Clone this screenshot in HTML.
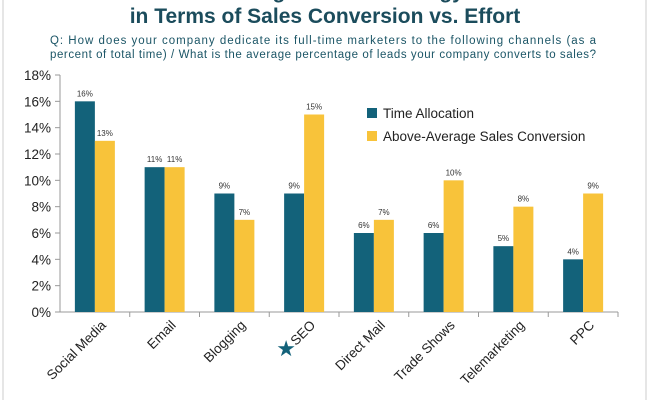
<!DOCTYPE html>
<html><head><meta charset="utf-8"><style>
body{margin:0;background:#fff;width:650px;height:400px;overflow:hidden;font-family:"Liberation Sans",sans-serif}
</style></head><body>
<svg width="650" height="400" xmlns="http://www.w3.org/2000/svg">
<rect x="3" y="-2" width="643" height="410" fill="none" stroke="#ccc"/>
<text x="325" y="-2" text-anchor="middle" font-size="21" font-weight="bold" fill="#1b4c5c">Marketing Channel Strategy</text>
<text x="325" y="23" text-anchor="middle" font-size="21" font-weight="bold" fill="#1b4c5c">in Terms of Sales Conversion vs. Effort</text>
<text x="50" y="44" font-size="11.5" fill="#1b5566" textLength="546">Q: How does your company dedicate its full-time marketers to the following channels (as a</text>
<text x="50" y="58" font-size="11.5" fill="#1b5566" textLength="546">percent of total time) / What is the average percentage of leads your company converts to sales?</text>
<g id="plot"></g>
<g>
<rect x="367" y="108" width="10" height="10" fill="#13627a"/>
<text x="383" y="118" font-size="13.5" fill="#222">Time Allocation</text>
<rect x="367" y="131" width="10" height="10" fill="#f8c33a"/>
<text x="383" y="141" font-size="13.5" fill="#222">Above-Average Sales Conversion</text>
</g>
<text x="555" y="408" font-size="10" fill="#555">Source: HubSpot</text>
</svg>
<script>
const categories=["Social Media","Email","Blogging","SEO","Direct Mail","Trade Shows","Telemarketing","PPC"];
const timeAlloc=[16,11,9,9,6,6,5,4];
const conversion=[13,11,7,15,7,10,8,9];
const yTicks=[0,2,4,6,8,10,12,14,16,18];
const NS="http://www.w3.org/2000/svg";
const g=document.getElementById("plot");
const x0=60,x1=618,yTop=75,yBot=312,yMax=18;
const bw=(x1-x0)/categories.length;
function y(v){return yBot-(v/yMax)*(yBot-yTop);}
function mk(t,a,txt){const e=document.createElementNS(NS,t);for(const k in a)e.setAttribute(k,a[k]);if(txt!==undefined)e.textContent=txt;g.appendChild(e);return e;}
yTicks.forEach(t=>{
 const l=mk("line",{x1:x0-5,x2:x0,y1:y(t),y2:y(t),stroke:"#999"});
 
 
 const tx=mk("text",{x:x0-9,y:y(t)+5,"text-anchor":"end","font-size":"13.5",fill:"#222"},t+"%");
 
 
});
const ax=mk("line",{x1:x0,x2:x0,y1:yTop,y2:yBot,stroke:"#999"});


const xa=mk("line",{x1:x0,x2:x1,y1:yBot,y2:yBot,stroke:"#999"});


categories.forEach((c,i)=>{
 const cx=x0+bw*(i+0.5);
 const tk=mk("line",{x1:x0+bw*(i+1),x2:x0+bw*(i+1),y1:yBot,y2:yBot+5,stroke:"#999"});
 
 
 [[timeAlloc[i],"#13627a",cx-20,'bar-time'],[conversion[i],"#f8c33a",cx,'bar-conversion']].forEach(([v,col,bx,nm])=>{
  const r=mk("rect",{x:bx,y:y(v),width:20,height:yBot-y(v),fill:col});
  
  
  const lb=mk("text",{x:bx+10,y:y(v)-5,"text-anchor":"middle","font-size":"8",fill:"#333"},v+"%");
  
  
 });
 const lx=cx+12,ly=yBot+14;
 const t=mk("text",{x:lx,y:ly,"text-anchor":"end","font-size":"13.5",fill:"#222",transform:`rotate(-45 ${lx} ${ly})`},c);
 
 
 if(c==="SEO"){
  const s=mk("text",{x:cx-18,y:yBot+44,"text-anchor":"middle","font-size":"22",fill:"#13627a"},"★");
  
  
 }
});
</script>
</body></html>
